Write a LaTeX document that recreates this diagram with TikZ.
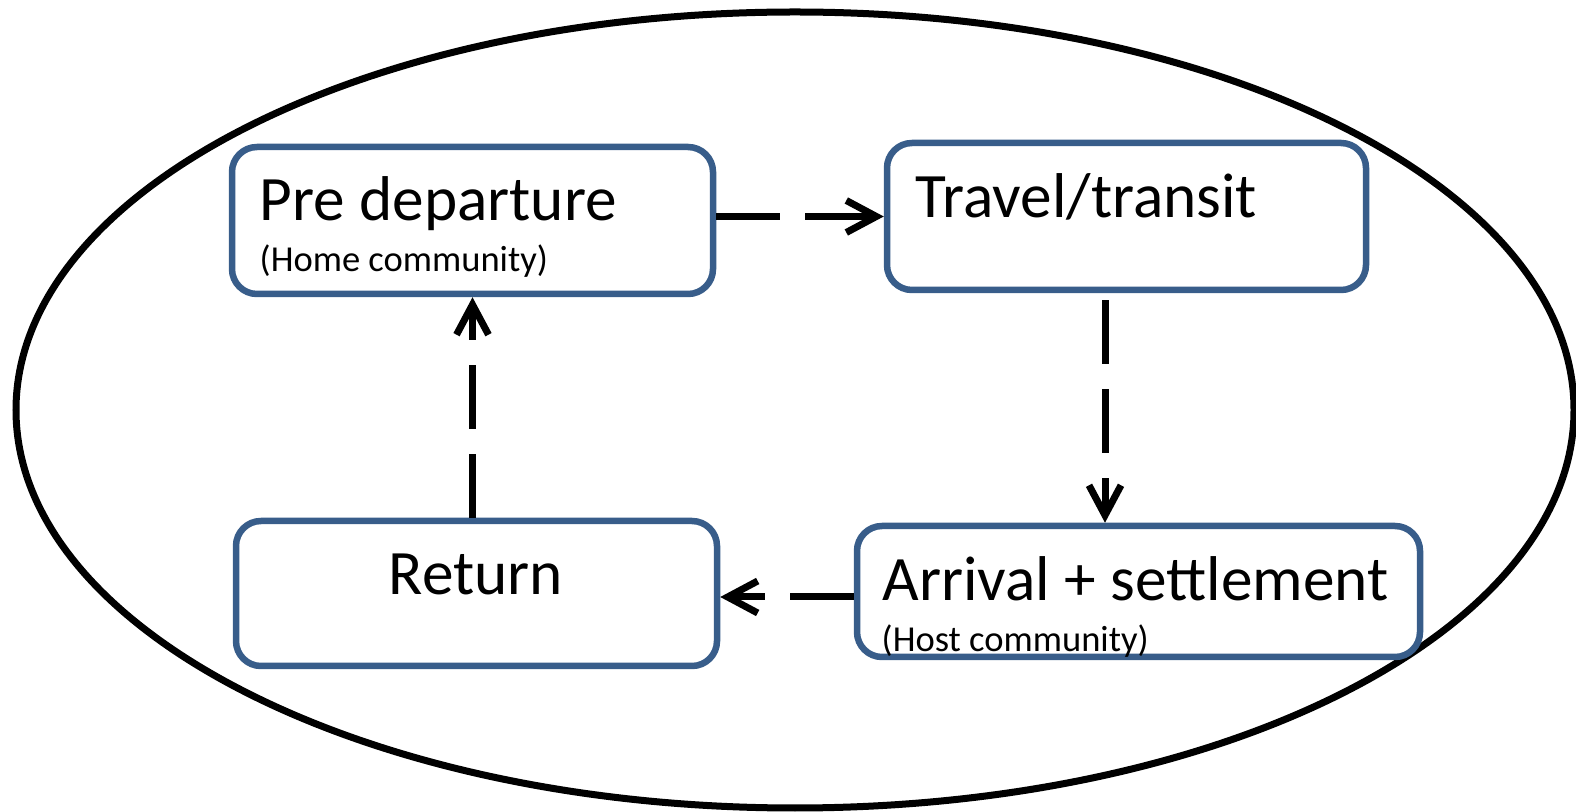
\documentclass[tikz,border=0pt]{standalone}
\usepackage{fontspec}
\setmainfont{Carlito}
\usetikzlibrary{arrows.meta}
\definecolor{boxblue}{RGB}{56,93,138}

\begin{document}
\begin{tikzpicture}[>={Straight Barb[length=3mm,width=3.2mm]},
        stage/.style={rectangle, rounded corners=0.25cm, draw=boxblue, line width=0.065cm, fill=white, inner sep=0pt},
        flow/.style={->, line width=0.07cm, dash pattern=on 0.64cm off 0.25cm},
        big/.style={font=\fontsize{18}{21}\selectfont, inner sep=0pt},
        small/.style={font=\fontsize{10.4}{12}\selectfont, inner sep=0pt}]
        \useasboundingbox (0,0) rectangle (15.76,-8.12);
        \draw[line width=0.07cm] (7.95,-4.10) ellipse [x radius=7.79, y radius=3.98];
        \node[stage, minimum width=4.81cm, minimum height=1.47cm] (pre) at (4.725,-2.205) {};
        \node[stage, minimum width=4.79cm, minimum height=1.47cm] (travel) at (11.265,-2.165) {};
        \node[stage, minimum width=4.81cm, minimum height=1.45cm] (back) at (4.765,-5.935) {};
        \node[stage, minimum width=5.63cm, minimum height=1.31cm] (arrive) at (11.385,-5.915) {};
        \node[big, anchor=base west] (preT) at (2.59,-2.207) {Pre departure};
        \node[small, anchor=base west] (preS) at (2.59,-2.715) {(Home community)};
        \node[big, anchor=base west] (travelT) at (9.15,-2.18) {Travel/transit};
        \node[big, anchor=base] (backT) at (4.76,-5.95) {Return};
        \node[big, anchor=base west] (arriveT) at (8.82,-6.01) {Arrival + settlement};
        \node[small, anchor=base west] (arriveS) at (8.81,-6.52) {(Host community)};
        \draw[flow] (pre.east |- travel.west) -- (travel.west);
        \draw[flow] ([xshift=-0.215cm, yshift=-0.07cm]travel.south) -- ([xshift=-0.215cm]travel.south |- arrive.north);
        \draw[flow] ([yshift=-0.055cm]arrive.west) -- ([yshift=-0.055cm]arrive.west -| back.east);
        \draw[flow] (back.north -| pre.south) -- (pre.south);
    \end{tikzpicture}
\end{document}
